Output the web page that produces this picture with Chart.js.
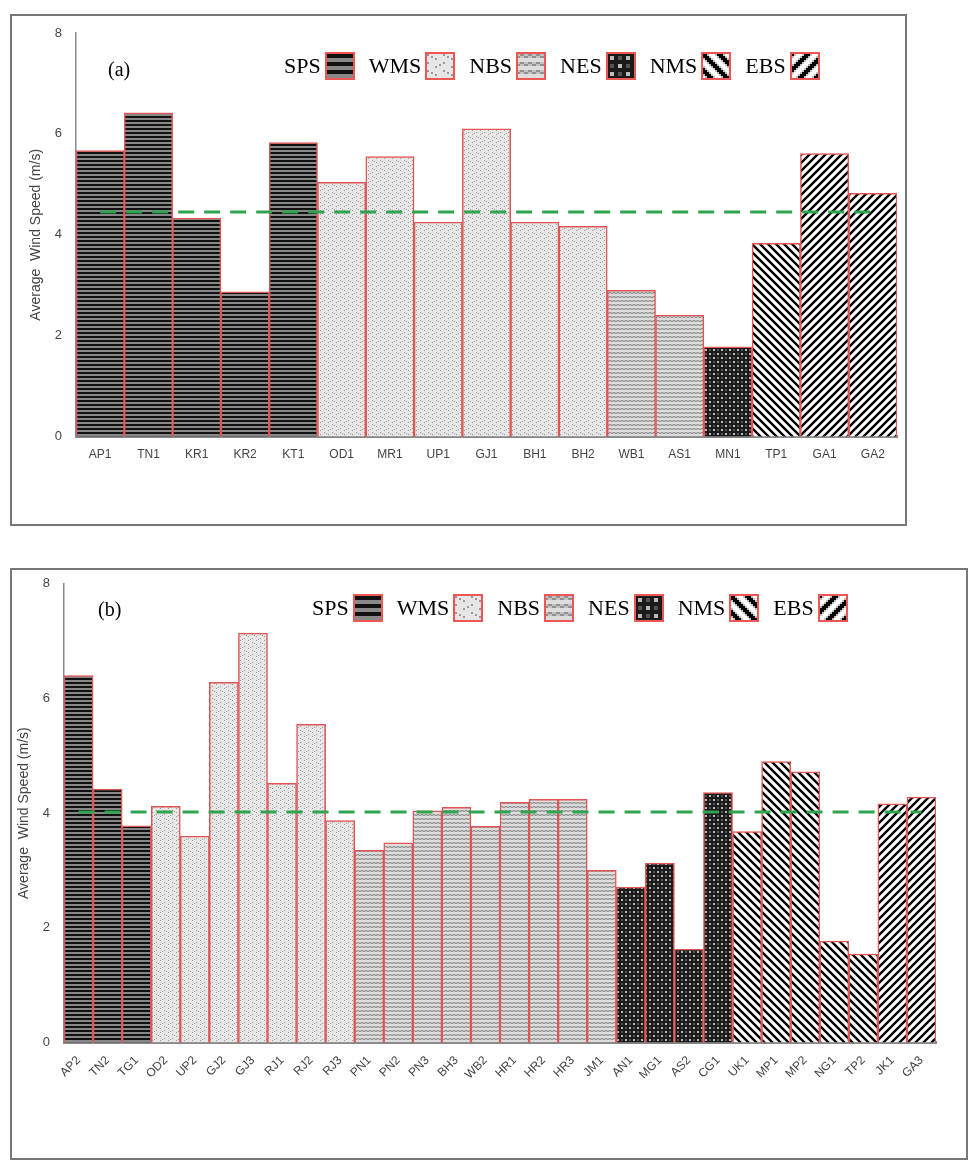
<!DOCTYPE html>
<html>
<head>
<meta charset="utf-8">
<script src="https://cdn.jsdelivr.net/npm/chart.js@4.4.0/dist/chart.umd.min.js"></script>
<style>
  body { margin: 0; background: #fff; width: 978px; height: 1166px; position: relative; font-family: "Liberation Sans", Arial, sans-serif; }
  .panel { position: absolute; border: 2px solid #777; box-sizing: border-box; }
  .panel canvas { position: absolute; left: 0; top: 0; }
  .tag { position: absolute; font-family: "Liberation Serif", serif; font-size: 20px; }
  .legend { position: absolute; display: flex; align-items: center; font-family: "Liberation Serif", serif; font-size: 22px; }
  .legend span { margin-left: 14px; margin-right: 4px; }
  .legend canvas { position: static; border: 2px solid #e55; }
</style>
</head>
<body>
<div class="panel" id="pa" style="left:10px;top:14px;width:897px;height:512px;">
  <canvas id="chartA"></canvas>
  <div class="tag" style="left:96px;top:42px;">(a)</div>
  <div class="legend" id="legA" style="left:258px;top:36px;"></div>
</div>
<div class="panel" id="pb" style="left:10px;top:568px;width:958px;height:592px;">
  <canvas id="chartB"></canvas>
  <div class="tag" style="left:86px;top:28px;">(b)</div>
  <div class="legend" id="legB" style="left:286px;top:24px;"></div>
</div>
<script>
const GROUPS = ["SPS", "WMS", "NBS", "NES", "NMS", "EBS"];

const labelsA = ["AP1", "TN1", "KR1", "KR2", "KT1", "OD1", "MR1", "UP1", "GJ1", "BH1", "BH2", "WB1", "AS1", "MN1", "TP1", "GA1", "GA2"];
const valuesA = [5.67, 6.42, 4.33, 2.87, 5.83, 5.04, 5.55, 4.25, 6.1, 4.25, 4.17, 2.9, 2.41, 1.78, 3.83, 5.61, 4.82];
const groupA = ["SPS", "SPS", "SPS", "SPS", "SPS", "WMS", "WMS", "WMS", "WMS", "WMS", "WMS", "NBS", "NBS", "NES", "NMS", "EBS", "EBS"];
const meanA = 4.45;

const labelsB = ["AP2", "TN2", "TG1", "OD2", "UP2", "GJ2", "GJ3", "RJ1", "RJ2", "RJ3", "PN1", "PN2", "PN3", "BH3", "WB2", "HR1", "HR2", "HR3", "JM1", "AN1", "MG1", "AS2", "CG1", "UK1", "MP1", "MP2", "NG1", "TP2", "JK1", "GA3"];
const valuesB = [6.4, 4.42, 3.78, 4.12, 3.6, 6.28, 7.14, 4.52, 5.55, 3.87, 3.35, 3.48, 4.04, 4.1, 3.77, 4.19, 4.24, 4.24, 3.0, 2.71, 3.13, 1.63, 4.36, 3.68, 4.9, 4.72, 1.77, 1.54, 4.16, 4.28];
const groupB = ["SPS", "SPS", "SPS", "WMS", "WMS", "WMS", "WMS", "WMS", "WMS", "WMS", "NBS", "NBS", "NBS", "NBS", "NBS", "NBS", "NBS", "NBS", "NBS", "NES", "NES", "NES", "NES", "NMS", "NMS", "NMS", "NMS", "NMS", "EBS", "EBS"];
const meanB = 4.02;

const yTicks = [0, 2, 4, 6, 8];

// ── Fill patterns ───────────────────────────────────────────────────────

function makePattern(kind) {
  const c = document.createElement("canvas");
  const s = 8;
  c.width = s; c.height = s;
  const g = c.getContext("2d");
  if (kind === "SPS") {
    g.fillStyle = "#888"; g.fillRect(0, 0, s, s);
    g.fillStyle = "#111"; g.fillRect(0, 0, s, 2); g.fillRect(0, 4, s, 2);
  } else if (kind === "WMS") {
    g.fillStyle = "#e6e6e6"; g.fillRect(0, 0, s, s);
    g.fillStyle = "#999";
    g.fillRect(0, 0, 1, 1); g.fillRect(4, 2, 1, 1); g.fillRect(0, 4, 1, 1); g.fillRect(4, 6, 1, 1);
    g.fillRect(2, 1, 1, 1); g.fillRect(6, 5, 1, 1);
  } else if (kind === "NBS") {
    g.fillStyle = "#ddd"; g.fillRect(0, 0, s, s);
    g.strokeStyle = "#777"; g.lineWidth = 1;
    for (let y = 1.5; y < s; y += 4) {
      g.beginPath(); g.moveTo(0, y); g.lineTo(2, y - 1); g.lineTo(4, y); g.lineTo(6, y - 1); g.lineTo(8, y); g.stroke();
    }
  } else if (kind === "NES") {
    g.fillStyle = "#1a1a1a"; g.fillRect(0, 0, s, s);
    g.fillStyle = "#bbb";
    g.fillRect(1, 1, 2, 2); g.fillRect(5, 5, 2, 2);
    g.fillStyle = "#555"; g.fillRect(5, 1, 2, 2); g.fillRect(1, 5, 2, 2);
  } else {
    g.fillStyle = "#fff"; g.fillRect(0, 0, s, s);
    g.strokeStyle = "#000"; g.lineWidth = 2.4;
    g.beginPath();
    if (kind === "NMS") {
      g.moveTo(-2, -2); g.lineTo(s + 2, s + 2);
      g.moveTo(-2, s - 2); g.lineTo(2, s + 2);
      g.moveTo(s - 2, -2); g.lineTo(s + 2, 2);
    } else {
      g.moveTo(-2, s + 2); g.lineTo(s + 2, -2);
      g.moveTo(-2, 2); g.lineTo(2, -2);
      g.moveTo(s - 2, s + 2); g.lineTo(s + 2, s - 2);
    }
    g.stroke();
  }
  return c;
}

const PATTERN_CANVAS = {};
GROUPS.forEach(k => { PATTERN_CANVAS[k] = makePattern(k); });
const ctxTmp = document.createElement("canvas").getContext("2d");
const PATTERNS = {};
GROUPS.forEach(k => { PATTERNS[k] = ctxTmp.createPattern(PATTERN_CANVAS[k], "repeat"); });

// ── Legend (inside the plot, text then swatch) ──────────────────────────

function buildLegend(id) {
  const el = document.getElementById(id);
  GROUPS.forEach(k => {
    const sp = document.createElement("span");
    sp.textContent = k;
    el.appendChild(sp);
    const sw = document.createElement("canvas");
    sw.width = 26; sw.height = 24;
    const g = sw.getContext("2d");
    g.fillStyle = g.createPattern(makeBig(k), "repeat");
    g.fillRect(0, 0, 26, 24);
    el.appendChild(sw);
  });
}
function makeBig(k) {
  const src = PATTERN_CANVAS[k];
  const c = document.createElement("canvas");
  c.width = 16; c.height = 16;
  const g = c.getContext("2d");
  g.imageSmoothingEnabled = false;
  g.drawImage(src, 0, 0, 16, 16);
  return c;
}

// ── Charts ──────────────────────────────────────────────────────────────

function renderChart(canvasId, panelId, labels, values, groups, mean, rotate, pad) {
  const panel = document.getElementById(panelId);
  const cv = document.getElementById(canvasId);
  cv.width = panel.clientWidth; cv.height = panel.clientHeight;
  cv.style.width = panel.clientWidth + "px"; cv.style.height = panel.clientHeight + "px";

  new Chart(cv, {
    data: {
      labels: labels,
      datasets: [
        {
          type: "line",
          data: labels.map(() => mean),
          borderColor: "#2ea44f",
          borderWidth: 3,
          borderDash: [16, 10],
          pointRadius: 0,
          order: 0,
        },
        {
          type: "bar",
          data: values,
          backgroundColor: groups.map(g => PATTERNS[g]),
          borderColor: "#e05555",
          borderWidth: 1.5,
          categoryPercentage: 1,
          barPercentage: 1,
          order: 1,
        }
      ]
    },
    options: {
      responsive: false,
      animation: false,
      layout: { padding: pad },
      plugins: { legend: { display: false }, tooltip: { enabled: false } },
      scales: {
        y: {
          min: 0, max: 8,
          afterBuildTicks: axis => { axis.ticks = yTicks.map(v => ({ value: v })); },
          grid: { display: false, drawTicks: true },
          border: { color: "#888", width: 1.5 },
          ticks: { color: "#444", font: { size: 13 }, padding: 6 },
          title: { display: true, text: "Average  Wind Speed (m/s)", color: "#444", font: { size: 14 } }
        },
        x: {
          offset: true,
          grid: { display: false, offset: true, drawTicks: true },
          border: { color: "#888", width: 3 },
          ticks: { color: "#444", font: { size: 12 }, autoSkip: false, maxRotation: rotate, minRotation: rotate }
        }
      }
    }
  });
}

buildLegend("legA");
buildLegend("legB");
renderChart("chartA", "pa", labelsA, valuesA, groupA, meanA, 0, { left: 12, right: 8, top: 17, bottom: 59 });
renderChart("chartB", "pb", labelsB, valuesB, groupB, meanB, 45, { left: 0, right: 30, top: 7, bottom: 73 });
</script>
</body>
</html>
